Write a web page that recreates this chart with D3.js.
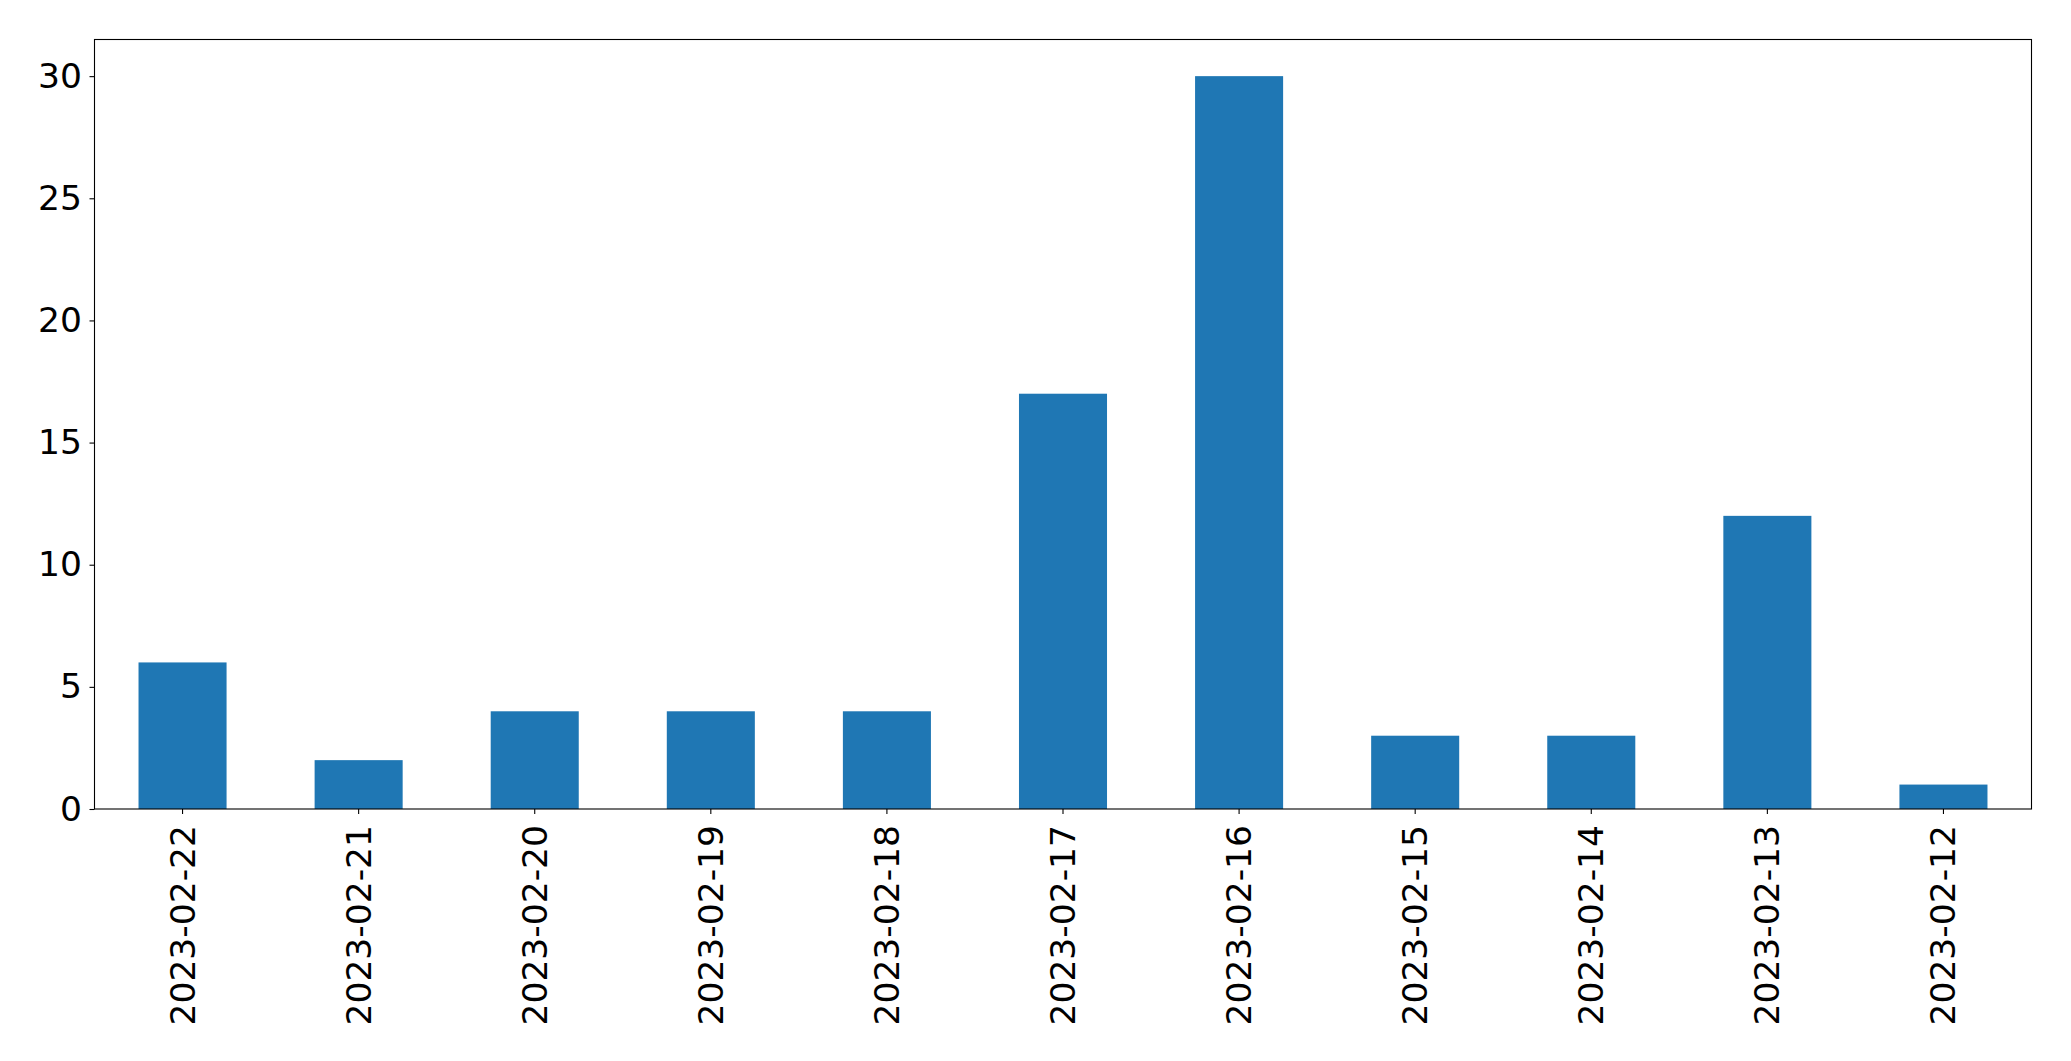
<!DOCTYPE html>
<html><head><meta charset="utf-8">
<script src="https://cdn.jsdelivr.net/npm/d3@7"></script>
<style>body{margin:0;background:#fff}svg{display:block}text{font-family:"DejaVu Sans",sans-serif;fill:#000}</style>
</head><body>
<script>
const categories = ["2023-02-22","2023-02-21","2023-02-20","2023-02-19","2023-02-18","2023-02-17","2023-02-16","2023-02-15","2023-02-14","2023-02-13","2023-02-12"];
const values = [6,2,4,4,4,17,30,3,3,12,1];
const yTicks = [0,5,10,15,20,25,30];

const W = 2071, H = 1061;
const pLeft = 94.5, pRight = 2031.5, pTop = 39.5, pBottom = 809;
const fs = 34.5;

const svg = d3.select("body").append("svg").attr("width", W).attr("height", H);

const x = d3.scaleBand().domain(categories).range([pLeft, pRight]).paddingInner(0.5).paddingOuter(0.25);
const y = d3.scaleLinear().domain([0, 31.5]).range([pBottom, pTop]);

svg.append("g").selectAll("rect").data(values).join("rect")
  .attr("x", (d,i) => x(categories[i]))
  .attr("width", x.bandwidth())
  .attr("y", d => y(d))
  .attr("height", d => y(0) - y(d))
  .attr("fill", "#1f77b4");

const yAxis = svg.append("g").attr("transform", `translate(${pLeft},0)`)
  .call(d3.axisLeft(y).tickValues(yTicks).tickSize(5).tickPadding(7.5).tickFormat(d3.format("d")));
yAxis.select(".domain").remove();
yAxis.selectAll("line").attr("stroke", "#000").attr("stroke-width", 1.1);
yAxis.selectAll("text").attr("font-size", fs).style("font-family", "DejaVu Sans").attr("fill", "#000");

const xAxis = svg.append("g").attr("transform", `translate(0,${pBottom})`)
  .call(d3.axisBottom(x).tickSize(5).tickPadding(0));
xAxis.select(".domain").remove();
xAxis.selectAll("line").attr("stroke", "#000").attr("stroke-width", 1.1);
xAxis.selectAll("text")
  .attr("font-size", fs).style("font-family", "DejaVu Sans").attr("fill", "#000")
  .attr("text-anchor", "end")
  .attr("dy", null)
  .attr("y", 0)
  .attr("dominant-baseline", "central")
  .attr("transform", "translate(0,16) rotate(-90)");

svg.append("rect").attr("x", pLeft).attr("y", pTop).attr("width", pRight-pLeft).attr("height", pBottom-pTop)
  .attr("fill", "none").attr("stroke", "#000").attr("stroke-width", 1.1);
</script>
</body></html>
